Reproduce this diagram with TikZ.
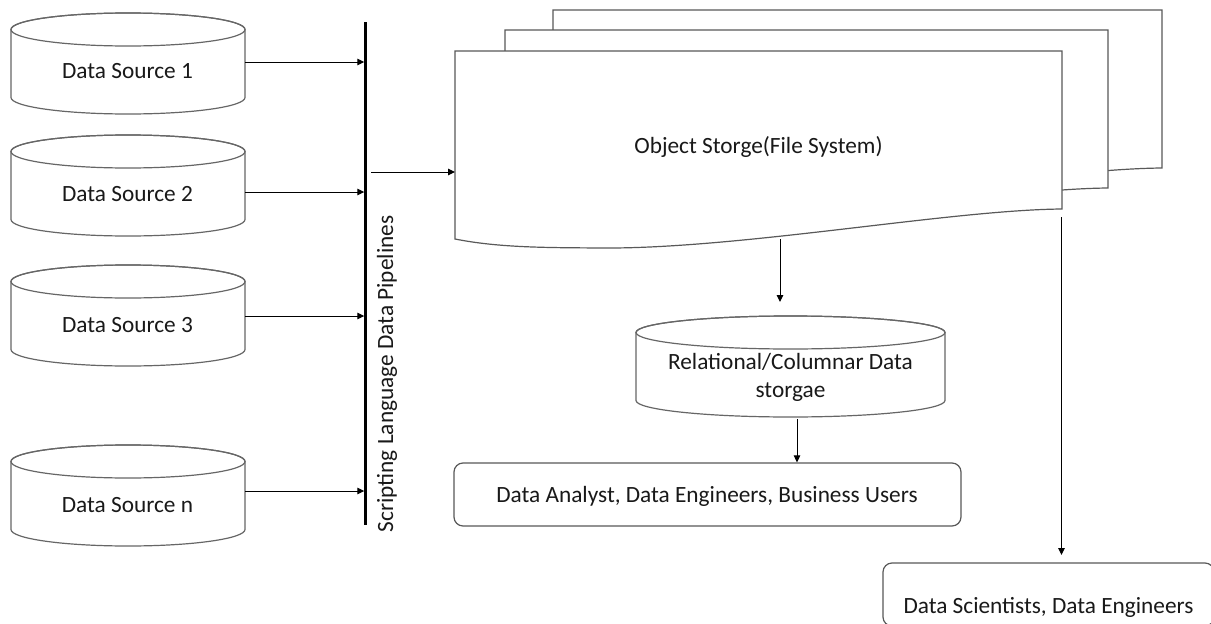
\documentclass[tikz,border=0pt]{standalone}
\usepackage{fontspec}
\setmainfont{Carlito}
\usetikzlibrary{arrows.meta,calc}
\tikzset{
  cyl/.style={draw=black!60, line width=1.2pt, fill=white},
  sheet/.style={draw=black!65, line width=1.2pt, fill=white},
  rbox/.style={draw=black!65, line width=1.2pt, rounded corners=9pt, fill=white, inner sep=0},
  lbl/.style={font=\fontsize{23.3}{28}\selectfont, inner sep=0, text=black!90},
  arr/.style={draw=black, line width=1pt, -{Triangle[length=7pt,width=6.5pt]}},
  helper/.style={inner sep=0, outer sep=0}
}
\newcommand{\dbcyl}[4]{%
  \draw[cyl] ({#2-#4},{-(#3+16.5)}) -- ({#2-#4},{-(#3+84.5)})
     arc[start angle=180,end angle=360,x radius=#4,y radius=16.5]
     -- ({#2+#4},{-(#3+16.5)})
     arc[start angle=0,end angle=180,x radius=#4,y radius=16.5] -- cycle;
  \draw[cyl,fill=none] (#2,{-(#3+16.5)}) ellipse[x radius=#4, y radius=16.5];
  \node[helper, minimum width={2*#4}, minimum height=101] (#1) at (#2,{-(#3+50.5)}) {};
}
\newcommand{\docsheet}[3]{%
  \begin{scope}[shift={(#1,-#2)}, xscale=#3/607]
    \draw[sheet] (0,0) -- (607,0) -- (607,-158)
      .. controls (495,-159) and (285,-198) .. (147,-197)
      .. controls (95,-196.6) and (45,-197) .. (0,-188) -- cycle;
  \end{scope}
}
\begin{document}
\begin{tikzpicture}[x=1pt,y=1pt]
\useasboundingbox (0,0) rectangle (1211,-624);
\clip (0,0) rectangle (1211,-624);
\fill[white] (0,0) rectangle (1211,-624);

% data sources
\dbcyl{ds1}{128}{13}{117}
\dbcyl{ds2}{128}{135}{117}
\dbcyl{ds3}{128}{265}{117}
\dbcyl{dsn}{128}{445}{117}
\node[lbl, anchor=base] (ds1t) at (127.5,-78) {Data Source 1};
\node[lbl, anchor=base] (ds2t) at (127.5,-201) {Data Source 2};
\node[lbl, anchor=base] (ds3t) at (127.5,-332) {Data Source 3};
\node[lbl, anchor=base] (dsnt) at (127.5,-512) {Data Source n};

% pipeline bar
\node[helper, fill=black, minimum width=2.4, minimum height=503] (bar) at (365.5,-273.5) {};
\node[lbl, rotate=90, anchor=base] (vt) at (393,-374) {Scripting Language Data Pipelines};

\coordinate (b1) at (364.3,-62);
\coordinate (b2) at (364.3,-192);
\coordinate (b3) at (364.3,-316);
\coordinate (bn) at (364.3,-491);
\draw[arr] (ds1.east |- b1) -- (b1);
\draw[arr] (ds2.east |- b2) -- (b2);
\draw[arr] (ds3.east |- b3) -- (b3);
\draw[arr] (dsn.east |- bn) -- (bn);

% object storage sheets
\docsheet{553}{10}{609}
\docsheet{505}{30}{603}
\docsheet{455}{51}{607}
\node[helper, minimum width=607, minimum height=188] (os) at (758.5,-145) {};
\node[lbl, anchor=base] (ost) at (758.5,-153) {Object Storge(File System)};

\coordinate (p0) at (371,-172);
\draw[arr] (p0) -- (p0 -| os.west);

% relational storage
\dbcyl{rel}{790.5}{316}{154.5}
\node[lbl, anchor=base] (rel1) at (790.5,-369) {Relational/Columnar Data};
\node[lbl, anchor=base] (rel2) at (790.5,-397) {storgae};

\coordinate (q0) at (780,-239);
\coordinate (q1) at (780,-302);
\draw[arr] (q0) -- (q1);

% analyst box
\node[rbox, minimum width=507, minimum height=63] (an) at (707.5,-494.5) {};
\node[lbl, anchor=base] (ant) at (707,-502) {Data Analyst, Data Engineers, Business Users};
\coordinate (r0) at (797,-419);
\draw[arr] (r0) -- (r0 |- an.north);

% scientists box
\node[rbox, minimum width=331, minimum height=63] (sc) at (1048.5,-594.5) {};
\node[lbl, anchor=base] (sct) at (1048.5,-613) {Data Scientists, Data Engineers};
\coordinate (s0) at (1061.5,-217);
\coordinate (s1) at (1061.5,-555);
\draw[arr] (s0) -- (s1);
\end{tikzpicture}
\end{document}
